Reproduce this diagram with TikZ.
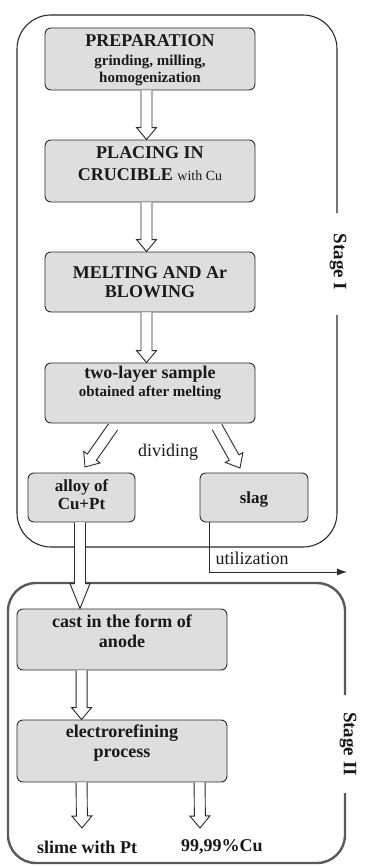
\documentclass[tikz,border=0pt]{standalone}
\usepackage{fontspec}
\setmainfont{Liberation Serif}
\usetikzlibrary{calc,arrows.meta}
\definecolor{linec}{HTML}{2B2B2B}
\definecolor{boxfill}{HTML}{DEDEDE}
\definecolor{frametwo}{HTML}{5A5A5A}
\tikzset{
  box/.style={draw=linec, fill=boxfill, rounded corners=6pt, line width=0.9pt, inner sep=0pt},
  bigbox/.style={box, minimum width=210pt, minimum height=62pt},
  smallbox/.style={box, minimum width=108pt, minimum height=49pt},
  txt/.style={align=center, inner sep=0pt, text=black!90, font=\bfseries\fontsize{18}{22}\selectfont},
  plain/.style={inner sep=0pt, text=black!90, font=\fontsize{18}{22}\selectfont},
  stagelab/.style={inner sep=0pt, rotate=-90, text=black!90, font=\bfseries\fontsize{19}{22}\selectfont},
  frameone/.style={draw=linec, line width=1.1pt, rounded corners=34pt},
  frametwostyle/.style={draw=frametwo, line width=2.4pt, rounded corners=28pt},
  harrowstyle/.style={draw=linec, fill=white, line width=0.9pt, line join=miter},
}
\newcommand{\harrow}[3][12pt]{%
  \filldraw[harrowstyle] let \p1=#2, \p2=#3, \p3=($(\p2)!#1!(\p1)$) in
  ($(\p1)!5.5pt!90:(\p2)$) -- ($(\p3)!5.5pt!90:(\p2)$) -- ($(\p3)!10pt!90:(\p2)$) -- (\p2)
  -- ($(\p3)!10pt!-90:(\p2)$) -- ($(\p3)!5.5pt!-90:(\p2)$) -- ($(\p1)!5.5pt!-90:(\p2)$);
}
\begin{document}
\begin{tikzpicture}[x=1pt,y=-1pt]
\useasboundingbox[fill=white] (0,0) rectangle (364,867);

% frames
\draw[frameone] (337,213) -- (337,15) -- (17,15) -- (17,547) -- (337,547) -- (337,315);
\draw[frametwostyle] (345,695) -- (345,583) -- (8,583) -- (8,863) -- (345,863) -- (345,793);
\node[stagelab] (st1) at (338,262) {Stage I};
\node[stagelab] (st2) at (348,744) {Stage II};

% boxes
\node[bigbox] (prep) at (150,59) {};
\node[bigbox] (place) at (150,171) {};
\node[bigbox, minimum height=60pt] (melt) at (150,282) {};
\node[bigbox, minimum height=60pt] (two) at (150,393) {};
\node[smallbox, minimum width=107pt] (alloy) at (81.5,497.5) {};
\node[smallbox] (slag) at (254,497.5) {};
\node[bigbox, minimum height=61pt] (cast) at (122,639.5) {};
\node[bigbox] (electro) at (122,751) {};

% box texts
\node[txt] (tprep) at ($(prep.center)+(0,1)$) {PREPARATION\\[-3pt] {\fontsize{15}{18}\selectfont grinding, milling,}\\[-5pt] {\fontsize{15}{18}\selectfont homogenization}};
\node[txt] (tplace) at ($(place.center)+(0,-7.5)$) {PLACING IN\\ CRUCIBLE {\mdseries\fontsize{14}{18}\selectfont with Cu}};
\node[txt] (tmelt) at ($(melt.center)+(0,0)$) {MELTING AND Ar\\[-3pt] BLOWING};
\node[txt] (ttwo) at ($(two.center)+(0,-10)$) {two-layer sample\\[-4pt] {\fontsize{15}{18}\selectfont obtained after melting}};
\node[txt, font=\bfseries\fontsize{17}{21}\selectfont] (talloy) at ($(alloy.center)+(0,-3)$) {alloy of\\[-3pt] Cu+Pt};
\node[txt, font=\bfseries\fontsize{17}{21}\selectfont] (tslag) at ($(slag.center)+(0,2)$) {slag};
\node[txt] (tcast) at ($(cast.center)+(0,-8)$) {cast in the form of\\[-2pt] anode};
\node[txt] (telectro) at ($(electro.center)+(0,-8)$) {electrorefining\\[-2pt] process};

% free labels
\node[plain] (divid) at (168,452) {dividing};
\node[plain] (util) at (252,558) {utilization};
\node[txt] (slime) at (87,847) {slime with Pt};
\node[txt] (cu) at (222,847) {99,99\%Cu};

% hollow arrows
\coordinate (dl1) at (113,427);
\coordinate (dl2) at (85,467);
\coordinate (dr1) at (217,427);
\coordinate (dr2) at (240,468);
\coordinate (sl1) at (82,828);
\coordinate (cu1) at (200,828);
\harrow{($(prep.south)+(-3.5,0)$)}{($(place.north)+(-3.5,0)$)}
\harrow{($(place.south)+(-3.5,0)$)}{($(melt.north)+(-3.5,0)$)}
\harrow{($(melt.south)+(-3.5,0)$)}{($(two.north)+(-3.5,0)$)}
\harrow{(dl1)}{(dl2)}
\harrow{(dr1)}{(dr2)}
\harrow[25pt]{($(alloy.south)+(-1.5,0)$)}{($(cast.north -| alloy.south)+(-1.5,0)$)}
\harrow{($(cast.south west)+(65,0)$)}{($(electro.north west)+(65,0)$)}
\harrow{($(electro.south west)+(65,0)$)}{(sl1)}
\harrow{($(electro.south west)+(183,0)$)}{(cu1)}

% utilization line
\coordinate (u0) at ($(slag.south west)+(10,0)$);
\coordinate (u1) at (347,572);
\draw[draw=linec, line width=1pt, -{Latex[length=10pt,width=7pt]}] (u0) |- (u1);
\end{tikzpicture}
\end{document}
